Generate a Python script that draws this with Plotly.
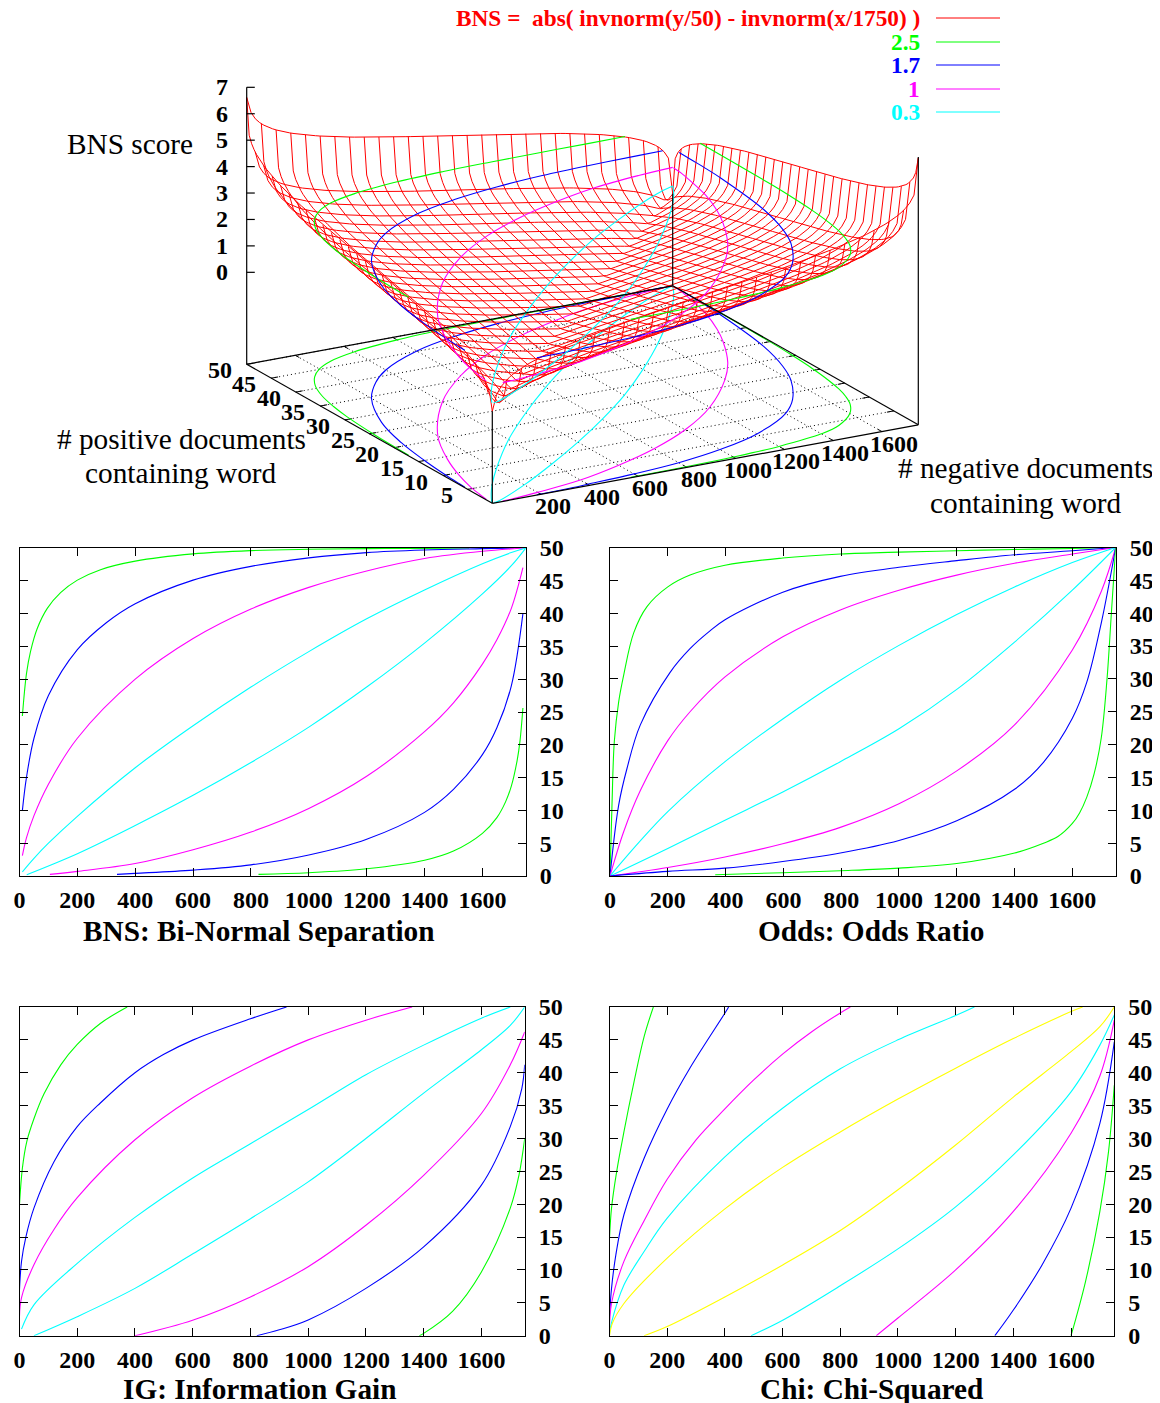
import numpy as np
import plotly.graph_objects as go

RED, GREEN, BLUE, MAGENTA, CYAN, YELLOW = "#ff0000", "#00ff00", "#0000ff", "#ff00ff", "#00ffff", "#ffff00"
SERIF = "Liberation Serif"

# ---- data (x = # negative docs, y = # positive docs) ----
bns_g_up_x = [3.3,5,10,24,38,61,96,142,200,280,400,600,800,1000,1200,1400,1554]
bns_g_up_y = [17.2,19.7,24.4,30.8,34.2,37.7,40.8,43.2,45.1,46.7,48,49.1,49.6,49.8,49.9,49.95,50]
bns_b_up_x = [3.3,5,10,24,50,100,200,300,400,600,800,1000,1200,1400,1600,1709]
bns_b_up_y = [5.75,7.1,10,15,21,27.5,34.5,38.6,41.5,45.1,47.2,48.5,49.3,49.7,49.9,50]
bns_m_up_x = [3.3,5,10,24,50,100,200,400,600,800,1000,1200,1400,1600,1750]
bns_m_up_y = [1.4,1.9,3.1,5.8,9.2,14,21,30,36.2,40.7,44,46.5,48.4,49.5,50]
bns_c_up_x = [3.3,5,10,50,100,200,400,600,800,1000,1200,1400,1600,1700,1750]
bns_c_up_y = [.23,.34,.64,2.7,5,9.1,16.5,22.9,28.8,34.2,39.2,43.6,47.6,49.3,50]
bns_c_lo_x = [7,12,25,200,400,600,800,1000,1200,1400,1600,1700,1750]
bns_c_lo_y = [.1,.15,.2,3.4,7.7,12.3,17.3,22.7,28.8,35.5,43,47.3,50]
bns_m_lo_x = [45,70,105,200,400,600,800,1000,1200,1400,1500,1600,1650,1700,1740,1745,1748,1750]
bns_m_lo_y = [.1,.15,.25,.7,1.9,4,6.7,10.3,15.2,22,26.4,32.3,36,40.8,47,48,49,49.85]
bns_b_lo_x = [185,250,337,400,600,800,1000,1200,1400,1500,1600,1650,1700,1740,1745,1748,1749.7,1750]
bns_b_lo_y = [.1,.15,.25,.4,.9,1.7,3.2,5.6,9.7,13.2,18.5,22.6,29,40,42.8,45.6,47.9,48.7]
bns_g_lo_x = [571,616,826,1000,1200,1400,1500,1600,1650,1680,1700,1720,1730,1740,1745,1748,1749.7,1750]
bns_g_lo_y = [.1,.13,.25,.5,1.1,2.4,3.8,6.5,8.9,11.3,13.7,17.6,20.6,25.6,30,35.4,41.2,44.4]

odds_g_up_x = [0,7,15,30,47,82,128,200,277,398,598,797,1000,1200,1400,1600,1750]
odds_g_up_y = [0,11,20.5,26.5,30.5,37,41,44,45.8,47.3,48.4,49,49.3,49.5,49.7,49.85,50]
odds_b_up_x = [0,30,59,105,208,277,346,398,598,797,1000,1200,1400,1600,1750]
odds_b_up_y = [0,10.8,16.4,23,31,34.6,37.3,39,43.2,45.6,47,48,48.9,49.5,50]
odds_m_up_x = [0,47,105,200,277,398,598,797,1000,1200,1400,1600,1750]
odds_m_up_y = [0,6.7,13,20.6,25,30.3,36.4,40.5,43.5,45.8,47.6,49,50]
odds_c_up_x = [0,100,200,398,598,797,1000,1200,1400,1600,1750]
odds_c_up_y = [0,5.1,9.8,17.4,23.9,29.8,35.1,39.8,44,47.7,50]
odds_c_lo_x = [0,200,398,598,797,1000,1200,1400,1600,1750]
odds_c_lo_y = [0,4.2,8.5,12.8,17.4,22.4,28.4,35.6,43.5,50]
odds_m_lo_x = [0,200,398,598,797,1000,1200,1400,1600,1700,1750]
odds_m_lo_y = [0,1.3,2.9,4.9,7.4,11,16,23,34.4,43.3,50]
odds_b_lo_x = [0,200,398,598,797,1000,1200,1400,1500,1600,1650,1700,1750]
odds_b_lo_y = [0,.7,1.2,2.2,3.5,5.4,8.4,13.2,17.3,24,29.5,38.5,50]
odds_g_lo_x = [364,598,797,1000,1200,1400,1500,1550,1600,1625,1650,1675,1700,1720,1735,1750]
odds_g_lo_y = [.2,.5,.8,1.2,1.9,3.5,5,6,8,9.6,12,15.5,21,30,40,50]

ig_g_up_x = [0,10,25,50,85,143,200,280,373]
ig_g_up_y = [20,25.5,29.5,33,36.8,41.2,44.3,47.5,50]
ig_b_up_x = [0,7,22,50,120,200,280,400,500,602,800,925]
ig_b_up_y = [7,11.3,15,19.4,26.5,31.8,35.4,40,42.8,45,48.2,50]
ig_m_up_x = [0,7,50,120,200,400,600,800,1000,1200,1360]
ig_m_up_y = [3,5.8,10.8,16.2,21,29.8,36.2,41,45,48,50]
ig_c_up_x = [7,50,200,400,600,800,1000,1200,1400,1600,1700]
ig_c_up_y = [1,4.7,11,18,24,29.2,34.4,39.7,44.2,48.3,50]
ig_c_lo_x = [50,200,400,602,800,1000,1200,1400,1600,1700,1750]
ig_c_lo_y = [0,2.9,7.2,12.5,17.8,23.4,30,36.9,43.5,47.2,50]
ig_m_lo_x = [400,602,800,1000,1200,1400,1600,1700,1750]
ig_m_lo_y = [0,2.4,5.9,10.5,16.8,24.4,33.8,41.2,46.2]
ig_b_lo_x = [822,900,1000,1200,1400,1600,1700,1740,1750]
ig_b_lo_y = [0,.9,2.4,7.2,13.5,22.9,31.8,37.6,41.2]
ig_g_lo_x = [1385,1400,1500,1600,1700,1730,1750]
ig_g_lo_y = [0,.35,3.7,9.7,19.4,24.4,30]

chi_g_up_x = [0,7,25,50,85,120,152]
chi_g_up_y = [14.8,19.4,25,31,38.6,45.5,50]
chi_b_up_x = [0,7,22,50,120,200,280,402,413]
chi_b_up_y = [3,7.2,12.3,18.4,27,34.5,40.8,49.2,50]
chi_m_up_x = [0,7,50,120,200,300,400,500,602,700,800,835]
chi_m_up_y = [1,4.9,11.3,17.5,23.8,29.8,34.5,38.9,42.9,46.2,49.1,50]
chi_c_up_x = [0,7,50,120,200,400,600,800,1000,1200,1265]
chi_c_up_y = [.4,2,7.7,12.8,17.9,27.2,34.6,40.6,45,48.7,50]
chi_y_up_x = [0,10,50,200,400,600,800,1000,1200,1400,1600,1640]
chi_y_up_y = [0,1.9,4.9,11.8,19.3,25.6,31,36,40.7,45.2,49.3,50]
chi_y_lo_x = [120,200,400,602,800,1000,1200,1400,1600,1700,1750]
chi_y_lo_y = [0,1.4,5.9,10.8,16,22.2,29,36.3,43.2,47,50]
chi_c_lo_x = [491,602,800,1000,1200,1400,1600,1700,1750]
chi_c_lo_y = [0,2.4,7.6,13.2,19.6,27.5,37.1,44.2,48.8]
chi_m_lo_x = [925,1000,1200,1400,1600,1700,1750]
chi_m_lo_y = [0,2.7,10,18.9,30.8,39.5,48]
chi_b_lo_x = [1336,1400,1500,1600,1700,1750]
chi_b_lo_y = [0,3.9,10.8,19.4,32.3,44.7]
chi_g_lo_x = [1600,1650,1700,1730,1750]
chi_g_lo_y = [0,8.2,18.9,28,38.1]

x_ticks = [0,200,400,600,800,1000,1200,1400,1600]
y_ticks = [0,5,10,15,20,25,30,35,40,45,50]
z_ticks = [0,1,2,3,4,5,6,7]
x_ticks_3d = x_ticks[1:]
y_ticks_3d = y_ticks[1:]
levels = [2.5, 1.7, 1.0, 0.3]
legend_labels = ["BNS =\u00a0 abs( invnorm(y/50) - invnorm(x/1750) )", "2.5", "1.7", "1", "0.3"]
legend_colors = [RED, GREEN, BLUE, MAGENTA, CYAN]
panel_titles = ["BNS: Bi-Normal Separation", "Odds: Odds Ratio", "IG: Information Gain", "Chi: Chi-Squared"]

# The mesh is |a(y) - a(x)|, the formula printed in the chart's own key. Its values
# come from these hand-typed lookup tables of invnorm; the two end values were read
# off the heights of the surface's edges in the picture, not pixel by pixel per node.
score_lo, score_hi = -2.92, 3.7
iso_half = [-1.819,-1.483,-1.262,-1.090,-.9446,-.8169,-.7020,-.5953,-.4949,-.3993,-.3073,-.2175,-.1299,-.0432]
sample_half = [-2.32,-2.05,-1.876,-1.746,-1.640,-1.550,-1.471,-1.400,-1.335,-1.276,-1.221,-1.169,-1.120,-1.074,
               -1.030,-.988,-.947,-.908,-.871,-.834,-.799,-.765,-.731,-.698,-.666,-.635,-.605,-.575,-.545,-.516,
               -.487,-.459,-.431,-.403,-.376,-.349,-.322,-.295,-.269,-.243,-.217,-.191,-.165,-.140,-.114,-.089,
               -.063,-.038,-.013]

# ---- view of the 3-D box: data -> page position (an orthographic projection) ----
ORIGIN = (492.3, 503.3)
X_VEC = (426.0, -78.5)
Y_VEC = (-245.6, -139.0)
Z_UNIT = 26.43
Z_FLOOR = -3.48

def project(x, y, z):
    x, y, z = np.asarray(x, float)/1750, np.asarray(y, float)/50, np.asarray(z, float)
    return (ORIGIN[0] + x*X_VEC[0] + y*Y_VEC[0],
            ORIGIN[1] + x*X_VEC[1] + y*Y_VEC[1] - (z - Z_FLOOR)*Z_UNIT)

fig = go.Figure()
W, H = 1160, 1403
BODY = 8  # the browser's default page margin around the figure

def add3d(xs, ys, zs, color, width=1.0, dash=None, spline=False):
    sx, sy = project(xs, ys, zs)
    line = dict(color=color, width=width)
    if dash: line["dash"] = dash
    if spline:
        line["shape"] = "spline"; line["smoothing"] = 1.0
    fig.add_trace(go.Scatter(x=sx, y=sy, mode="lines", line=line, xaxis="x5", yaxis="y5", hoverinfo="skip"))

def segs(points):
    xs, ys, zs = [], [], []
    for a, b in points:
        xs += [a[0], b[0], np.nan]; ys += [a[1], b[1], np.nan]; zs += [a[2], b[2], np.nan]
    return xs, ys, zs

# base grid
grid = [((t,0,Z_FLOOR),(t,50,Z_FLOOR)) for t in x_ticks_3d] + [((0,t,Z_FLOOR),(1750,t,Z_FLOOR)) for t in y_ticks_3d]
add3d(*segs(grid), "#000000", 1.0, dash="1px,3px")
tick_x, tick_y = 28, 0.8
ticks = []
for t in x_ticks_3d:
    ticks += [((t,0,Z_FLOOR),(t,tick_y,Z_FLOOR)), ((t,50,Z_FLOOR),(t,50-tick_y,Z_FLOOR))]
for t in y_ticks_3d:
    ticks += [((0,t,Z_FLOOR),(tick_x,t,Z_FLOOR)), ((1750,t,Z_FLOOR),(1750-tick_x,t,Z_FLOOR))]
add3d(*segs(ticks), "#000000", 1.0)

contours_3d = [
    (levels[0], GREEN, [(bns_g_up_x, bns_g_up_y), (bns_g_lo_x, bns_g_lo_y)]),
    (levels[1], BLUE, [(bns_b_up_x, bns_b_up_y), (bns_b_lo_x, bns_b_lo_y)]),
    (levels[2], MAGENTA, [(bns_m_up_x, bns_m_up_y), (bns_m_lo_x, bns_m_lo_y)]),
    (levels[3], CYAN, [(bns_c_up_x, bns_c_up_y), (bns_c_lo_x, bns_c_lo_y)]),
]
for lev, col, pairs in contours_3d:
    for cx, cy in pairs:
        add3d(cx, cy, [Z_FLOOR]*len(cx), col, 1.1, spline=True)

# surface mesh
iso = np.array([score_lo] + iso_half + [-v for v in iso_half[::-1]] + [score_hi])
samples = np.array([score_lo] + sample_half + [-v for v in sample_half[::-1]] + [score_hi])
iso_frac = np.arange(len(iso))/(len(iso)-1)
samp_frac = np.arange(len(samples))/(len(samples)-1)
mx, my, mz = [], [], []
for f, a in zip(iso_frac, iso):
    mx += list(samp_frac*1750) + [np.nan]; my += [f*50]*len(samples) + [np.nan]
    mz += list(np.abs(a - samples)) + [np.nan]
    mx += [f*1750]*len(samples) + [np.nan]; my += list(samp_frac*50) + [np.nan]
    mz += list(np.abs(samples - a)) + [np.nan]
add3d(mx, my, mz, RED, 1.0)

for lev, col, pairs in contours_3d:
    for cx, cy in pairs:
        add3d(cx, cy, [lev]*len(cx), col, 1.1, spline=True)

# box: base rectangle and verticals
box = [((0,0,Z_FLOOR),(1750,0,Z_FLOOR)), ((1750,0,Z_FLOOR),(1750,50,Z_FLOOR)),
       ((1750,50,Z_FLOOR),(0,50,Z_FLOOR)), ((0,50,Z_FLOOR),(0,0,Z_FLOOR)),
       ((0,0,Z_FLOOR),(0,0,0)), ((1750,50,Z_FLOOR),(1750,50,0)),
       ((1750,0,Z_FLOOR),(1750,0,6.65)), ((0,50,Z_FLOOR),(0,50,z_ticks[-1]))]
add3d(*segs(box), "#000000", 1.2)
z_tick_len = 0.019
add3d(*segs([((0,50,t),(1750*z_tick_len,50,t-78.5*z_tick_len/Z_UNIT)) for t in z_ticks]), "#000000", 1.2)

# ---- the four flat panels ----
def keep(cx, cy):
    out = [(a, b) for a, b in zip(cx, cy) if a >= 10 and b >= 0.2 and not (a > 1740 and b < 49.9)]
    return [p[0] for p in out], [p[1] for p in out]

panels = [
    ("x", "y", [keep(*c) + (k,) for c, k in [
        ((bns_g_up_x,bns_g_up_y),GREEN),((bns_b_up_x,bns_b_up_y),BLUE),((bns_m_up_x,bns_m_up_y),MAGENTA),((bns_c_up_x,bns_c_up_y),CYAN),
        ((bns_c_lo_x,bns_c_lo_y),CYAN),((bns_m_lo_x,bns_m_lo_y),MAGENTA),((bns_b_lo_x,bns_b_lo_y),BLUE),((bns_g_lo_x,bns_g_lo_y),GREEN)]]),
    ("x2", "y2", [(odds_g_up_x,odds_g_up_y,GREEN),(odds_b_up_x,odds_b_up_y,BLUE),(odds_m_up_x,odds_m_up_y,MAGENTA),(odds_c_up_x,odds_c_up_y,CYAN),
        (odds_c_lo_x,odds_c_lo_y,CYAN),(odds_m_lo_x,odds_m_lo_y,MAGENTA),(odds_b_lo_x,odds_b_lo_y,BLUE),(odds_g_lo_x,odds_g_lo_y,GREEN)]),
    ("x3", "y3", [(ig_g_up_x,ig_g_up_y,GREEN),(ig_b_up_x,ig_b_up_y,BLUE),(ig_m_up_x,ig_m_up_y,MAGENTA),(ig_c_up_x,ig_c_up_y,CYAN),
        (ig_c_lo_x,ig_c_lo_y,CYAN),(ig_m_lo_x,ig_m_lo_y,MAGENTA),(ig_b_lo_x,ig_b_lo_y,BLUE),(ig_g_lo_x,ig_g_lo_y,GREEN)]),
    ("x4", "y4", [(chi_g_up_x,chi_g_up_y,GREEN),(chi_b_up_x,chi_b_up_y,BLUE),(chi_m_up_x,chi_m_up_y,MAGENTA),(chi_c_up_x,chi_c_up_y,CYAN),(chi_y_up_x,chi_y_up_y,YELLOW),
        (chi_y_lo_x,chi_y_lo_y,YELLOW),(chi_c_lo_x,chi_c_lo_y,CYAN),(chi_m_lo_x,chi_m_lo_y,MAGENTA),(chi_b_lo_x,chi_b_lo_y,BLUE),(chi_g_lo_x,chi_g_lo_y,GREEN)]),
]
for xa, ya, curves in panels:
    for cx, cy, col in curves:
        fig.add_trace(go.Scatter(x=cx, y=cy, mode="lines", xaxis=xa, yaxis=ya, hoverinfo="skip",
                                 line=dict(color=col, width=1.1, shape="spline", smoothing=1.0)))

axis_font = dict(family=SERIF, size=24, color="#000000", weight="bold")
PW, PH = W - BODY, H - BODY
def panel_axes(left, right, top, bottom):
    ax = dict(domain=[(left-BODY)/PW, (right-BODY)/PW], range=[0,1750], tickmode="array", tickvals=x_ticks, ticks="inside", ticklen=8,
              tickwidth=1.2, tickcolor="#000", showline=True, linecolor="#000", linewidth=1.3, mirror="ticks",
              showgrid=False, zeroline=False, tickfont=axis_font, ticklabelstandoff=2)
    ay = dict(domain=[1-(bottom-BODY)/PH, 1-(top-BODY)/PH], range=[0,50], tickmode="array", tickvals=y_ticks, ticks="inside", ticklen=8,
              tickwidth=1.2, tickcolor="#000", showline=True, linecolor="#000", linewidth=1.3, mirror="ticks",
              showgrid=False, zeroline=False, side="right", tickfont=axis_font, ticklabelstandoff=8)
    return ax, ay

layout = dict(width=PW, height=PH, margin=dict(l=0,r=0,t=0,b=0,autoexpand=False), paper_bgcolor="#fff", plot_bgcolor="rgba(0,0,0,0)",
              showlegend=False, hovermode=False)
for i, box_px in enumerate([(19.5,525.8,548,876),(610,1115.7,547.5,876),(19.5,524.7,1007,1335.7),(609.5,1114.3,1007,1335.7)]):
    ax, ay = panel_axes(*box_px)
    n = "" if i == 0 else str(i+1)
    if i:
        ax["anchor"] = "y"+n; ay["anchor"] = "x"+n
    layout["xaxis"+n] = ax; layout["yaxis"+n] = ay
hidden = dict(visible=False, showgrid=False, zeroline=False, domain=[0,1], fixedrange=True)
layout["xaxis5"] = dict(hidden, range=[BODY,W], anchor="y5")
layout["yaxis5"] = dict(hidden, range=[H,BODY], anchor="x5")

ann, shapes = [], []
def label(px, py, text, size, color="#000000", bold=False, anchor="center", xshift=0, yshift=0):
    ann.append(dict(x=px, y=py, xref="x5", yref="y5", text=text, showarrow=False, xanchor=anchor, yanchor="middle",
                    xshift=xshift, yshift=yshift, borderpad=0,
                    font=dict(family=SERIF, size=size, color=color, weight="bold" if bold else "normal")))

# 3-D tick labels come from the projected tick values
tf = 24
for t in x_ticks_3d:
    sx, sy = project(t, 0, Z_FLOOR)
    label(float(sx), float(sy), str(t), tf, bold=True, xshift=12, yshift=-12)
for t in y_ticks_3d:
    sx, sy = project(0, t, Z_FLOOR)
    label(float(sx), float(sy), str(t), tf, bold=True, anchor="right", xshift=-14, yshift=-6)
for t in z_ticks:
    sx, sy = project(0, 50, t)
    label(float(sx), float(sy), str(t), tf, bold=True, anchor="right", xshift=-18)

label(130, 143.5, "BNS score", 29.3)
label(181, 439, "# positive documents", 29.3)
label(181, 472.5, "containing word", 29.3)
label(1025, 467.5, "# negative documents", 29.3)
label(1026, 502.5, "containing word", 29.3)
for txt, cx, cy in zip(panel_titles, [259,871,259,871], [930.5,930.5,1389,1389]):
    label(cx, cy, txt, 29.3, bold=True)
for txt, col, cy in zip(legend_labels, legend_colors, [18,42,65,89,112]):
    label(921, cy, txt, 23.3, color=col, bold=True, anchor="right")
    shapes.append(dict(type="line", xref="x5", yref="y5", x0=936, x1=1000, y0=cy, y1=cy, line=dict(color=col, width=1)))
layout["annotations"] = ann
layout["shapes"] = shapes
fig.update_layout(**layout)
fig.write_html("out.html")
